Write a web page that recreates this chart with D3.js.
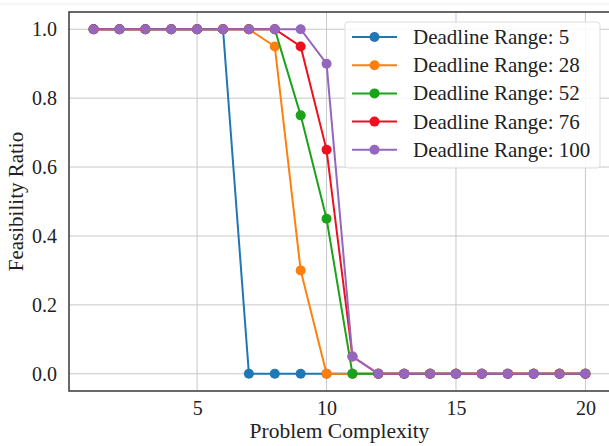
<!DOCTYPE html>
<html>
<head>
<meta charset="utf-8">
<script src="https://cdn.jsdelivr.net/npm/d3@7"></script>
<style>
  html, body { margin: 0; padding: 0; background: #fff; }
  svg { display: block; }
</style>
</head>
<body>
<svg id="chart" width="609" height="446"></svg>
<script>
// Problem complexity levels 1..20
const complexity = d3.range(1, 21);

// Feasibility ratio per deadline range
const dr5   = [1,1,1,1,1,1,0,0,0,0,0,0,0,0,0,0,0,0,0,0];
const dr28  = [1,1,1,1,1,1,1,0.95,0.30,0,0,0,0,0,0,0,0,0,0,0];
const dr52  = [1,1,1,1,1,1,1,1,0.75,0.45,0,0,0,0,0,0,0,0,0,0];
const dr76  = [1,1,1,1,1,1,1,1,0.95,0.65,0.05,0,0,0,0,0,0,0,0,0];
const dr100 = [1,1,1,1,1,1,1,1,1,0.90,0.05,0,0,0,0,0,0,0,0,0];

const seriesNames = ["Deadline Range: 5", "Deadline Range: 28", "Deadline Range: 52",
                     "Deadline Range: 76", "Deadline Range: 100"];
const seriesValues = [dr5, dr28, dr52, dr76, dr100];
const seriesColors = ["#1f77b4", "#ff7f0e", "#1aa31a", "#ee1020", "#9467bd"];

const xTicks = [5, 10, 15, 20];
const yTicks = [0, 0.2, 0.4, 0.6, 0.8, 1.0];

const FONT = "'Liberation Serif', 'Times New Roman', Tinos, Times, serif";

const svg = d3.select("#chart");
const margin = { left: 69, right: 610, top: 12, bottom: 391 };

const x = d3.scaleLinear().domain([0.05, 20.95]).range([margin.left, margin.right]);
const y = d3.scaleLinear().domain([-0.05, 1.05]).range([margin.bottom, margin.top]);

// faint frame line along the top edge
svg.append("line").attr("x1", 0).attr("x2", 609).attr("y1", 4).attr("y2", 4)
  .attr("stroke", "#ececec").attr("stroke-width", 1);

// grid
const grid = svg.append("g");
grid.selectAll(".gx").data(xTicks).join("line")
  .attr("x1", d => x(d)).attr("x2", d => x(d))
  .attr("y1", margin.top).attr("y2", margin.bottom)
  .attr("stroke", "#c8c8c8").attr("stroke-width", 1);
grid.selectAll(".gy").data(yTicks).join("line")
  .attr("x1", margin.left).attr("x2", margin.right)
  .attr("y1", d => y(d)).attr("y2", d => y(d))
  .attr("stroke", "#c8c8c8").attr("stroke-width", 1);

// axes
const xAxis = d3.axisBottom(x).tickValues(xTicks).tickFormat(d3.format("d")).tickSize(0).tickPadding(10);
const yAxis = d3.axisLeft(y).tickValues(yTicks).tickFormat(d3.format(".1f")).tickSize(0).tickPadding(12);

const gx = svg.append("g").attr("transform", `translate(0,${margin.bottom})`).call(xAxis);
const gy = svg.append("g").attr("transform", `translate(${margin.left},0)`).call(yAxis);
[gx, gy].forEach(g => {
  g.select(".domain").remove();
  g.attr("font-family", FONT).attr("font-size", 20);
  g.selectAll("text").attr("font-family", FONT).attr("font-size", 20).attr("fill", "#222");
});

// plot frame
svg.append("rect")
  .attr("x", margin.left).attr("y", margin.top)
  .attr("width", margin.right - margin.left).attr("height", margin.bottom - margin.top)
  .attr("fill", "none").attr("stroke", "#444").attr("stroke-width", 1.6);

// series lines and markers
const line = d3.line().x((d, i) => x(complexity[i])).y(d => y(d));
seriesValues.forEach((vals, k) => {
  const g = svg.append("g");
  g.append("path").datum(vals).attr("d", line)
    .attr("fill", "none").attr("stroke", seriesColors[k]).attr("stroke-width", 2);
  g.selectAll("circle").data(vals).join("circle")
    .attr("cx", (d, i) => x(complexity[i])).attr("cy", d => y(d))
    .attr("r", 5).attr("fill", seriesColors[k]);
});

// axis titles
svg.append("text").attr("x", (margin.left + margin.right) / 2).attr("y", 438)
  .attr("text-anchor", "middle").attr("font-family", FONT).attr("font-size", 21.5)
  .attr("fill", "#222").text("Problem Complexity");
svg.append("text")
  .attr("transform", `translate(23,${(margin.top + margin.bottom) / 2}) rotate(-90)`)
  .attr("text-anchor", "middle").attr("font-family", FONT).attr("font-size", 21)
  .attr("fill", "#222").text("Feasibility Ratio");

// legend
const lg = svg.append("g");
lg.append("rect").attr("x", 345).attr("y", 22).attr("width", 255).attr("height", 146)
  .attr("rx", 3).attr("fill", "rgba(255,255,255,0.85)").attr("stroke", "#ddd").attr("stroke-width", 1);
seriesNames.forEach((name, k) => {
  const cy = 37 + k * 28.2;
  lg.append("line").attr("x1", 352).attr("x2", 397).attr("y1", cy).attr("y2", cy)
    .attr("stroke", seriesColors[k]).attr("stroke-width", 2);
  lg.append("circle").attr("cx", 374.5).attr("cy", cy).attr("r", 5).attr("fill", seriesColors[k]);
  lg.append("text").attr("x", 413).attr("y", cy + 7).attr("font-family", FONT)
    .attr("font-size", 21).attr("fill", "#222").text(name);
});
</script>
</body>
</html>
